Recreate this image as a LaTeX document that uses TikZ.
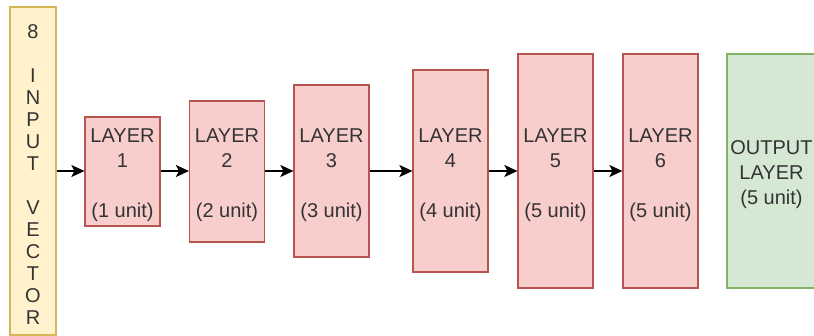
\documentclass[tikz,border=0pt]{standalone}
\usepackage{fontspec}
\setmainfont{Liberation Sans}
\usetikzlibrary{arrows.meta}

\definecolor{inpfill}{HTML}{FFF2CC}
\definecolor{inpdraw}{HTML}{D6B656}
\definecolor{hidfill}{HTML}{F8CECC}
\definecolor{hiddraw}{HTML}{B85450}
\definecolor{outfill}{HTML}{D5E8D4}
\definecolor{outdraw}{HTML}{82B366}
\definecolor{txtgray}{HTML}{333333}

\begin{document}
\begin{tikzpicture}[
  x=0.5pt,
  y=-0.5pt,
  box/.style={line width=0.6pt, inner sep=0pt, minimum width=37.5pt},
  boxtext/.style={align=center, inner sep=0pt, yshift=-2pt, text=txtgray, font=\fontsize{10}{12.5}\selectfont},
  inputbox/.style={box, draw=inpdraw, fill=inpfill, minimum width=23pt},
  hidden/.style={box, draw=hiddraw, fill=hidfill},
  outbox/.style={box, draw=outdraw, fill=outfill, minimum width=44.5pt},
  feed/.style={line width=0.6pt, -{Stealth[length=6.5pt, width=6pt, inset=1.5pt]}}
]
\useasboundingbox (0,0) rectangle (814,336);

\node[inputbox, minimum height=164pt,
  label={[boxtext, font=\fontsize{10}{11}\selectfont]center:{8\\[11pt]I\\N\\P\\U\\T\\[11pt]V\\E\\C\\T\\O\\R}}] (inp) at (33,171) {};

\node[hidden, minimum height=54.5pt, label={[boxtext]center:{LAYER\\1\\[12.5pt](1 unit)}}] (l1) at (122.5,171.5) {};
\node[hidden, minimum height=70.5pt, label={[boxtext]center:{LAYER\\2\\[12.5pt](2 unit)}}] (l2) at (227,171.5) {};
\node[hidden, minimum height=86pt, label={[boxtext]center:{LAYER\\3\\[12.5pt](3 unit)}}] (l3) at (331.5,171) {};
\node[hidden, minimum height=101pt, label={[boxtext]center:{LAYER\\4\\[12.5pt](4 unit)}}] (l4) at (450.5,171) {};
\node[hidden, minimum height=117pt, label={[boxtext]center:{LAYER\\5\\[12.5pt](5 unit)}}] (l5) at (555.5,171) {};
\node[hidden, minimum height=117pt, label={[boxtext]center:{LAYER\\6\\[12.5pt](5 unit)}}] (l6) at (660.5,171) {};

\node[outbox, minimum height=117pt, label={[boxtext]center:{OUTPUT\\LAYER\\(5 unit)}}] (out) at (771.5,171) {};

% forward connections
\draw[feed] (inp.east |- 0,171) -- (l1.west |- 0,171);
\draw[feed] (l1.east |- 0,171) -- (l2.west |- 0,171);
\draw[feed] (l2.east |- 0,171) -- (l3.west |- 0,171);
\draw[feed] (l3.east |- 0,171) -- (l4.west |- 0,171);
\draw[feed] (l4.east |- 0,171) -- (l5.west |- 0,171);
\draw[feed] (l5.east |- 0,171) -- (l6.west |- 0,171);
\end{tikzpicture}
\end{document}
